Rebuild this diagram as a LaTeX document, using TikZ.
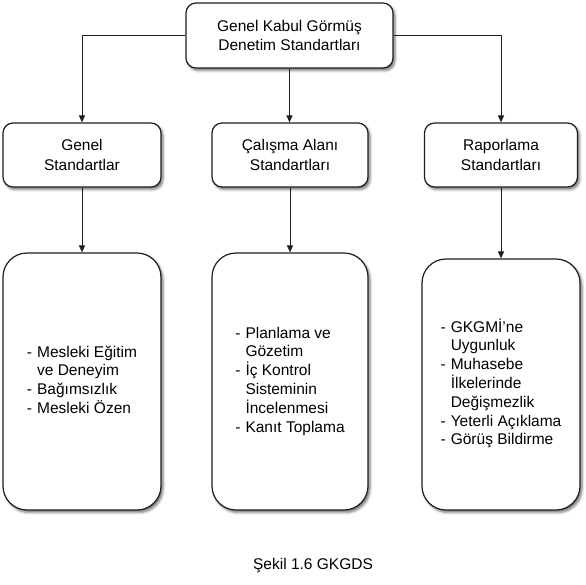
\documentclass[tikz,border=0pt]{standalone}
\usepackage{fontspec}
\setmainfont{Liberation Sans}
\usetikzlibrary{arrows.meta,shadows.blur}
\definecolor{edge}{HTML}{1E1E1E}

\begin{document}
\begin{tikzpicture}[x=1pt, y=-1pt,
    box/.style={draw=edge, line width=1.2pt, fill=white, rounded corners=10pt,
      blur shadow={shadow xshift=2pt, shadow yshift=-2.5pt, shadow blur radius=2.5pt, shadow opacity=55},
      font=\fontsize{15.5}{19.5}\selectfont, align=center, inner sep=0pt},
    listbox/.style={box, rounded corners=24pt, font=\fontsize{15.5}{18.7}\selectfont},
    link/.style={-{Triangle[length=7pt, width=6pt]}, draw=edge, line width=1pt}]
  \useasboundingbox (0,0) rectangle (586,584);
  % main box and the three groups
  \node[box, minimum width=207pt, minimum height=65pt] (gkgds) at (289.5,35.5)
        {Genel Kabul Görmüş\\Denetim Standartları};
  \node[box, minimum width=158pt, minimum height=64pt] (genel) at (82,155) {Genel\\Standartlar};
  \node[box, minimum width=156pt, minimum height=64pt] (alan) at (290,155) {Çalışma Alanı\\Standartları};
  \node[box, minimum width=153pt, minimum height=64pt] (rapor) at (501,155) {Raporlama\\Standartları};
  % lists
  \node[listbox, minimum width=158pt, minimum height=257pt] (genelliste) at (82,381.5)
        {\begin{tabular}{@{}l@{\hspace{5pt}}l@{}}
          - & Mesleki Eğitim\\ & ve Deneyim\\ - & Bağımsızlık\\ - & Mesleki Özen
         \end{tabular}};
  \node[listbox, minimum width=156pt, minimum height=257pt] (alanliste) at (290,381.5)
        {\begin{tabular}{@{}l@{\hspace{5pt}}l@{}}
          - & Planlama ve\\ & Gözetim\\ - & İç Kontrol\\ & Sisteminin\\ & İncelenmesi\\ - & Kanıt Toplama
         \end{tabular}};
  \node[listbox, minimum width=158pt, minimum height=251pt] (raporliste) at (501,384.5)
        {\begin{tabular}{@{}l@{\hspace{5pt}}l@{}}
          - & GKGMİ’ne\\ & Uygunluk\\ - & Muhasebe\\ & İlkelerinde\\ & Değişmezlik\\
          - & Yeterli Açıklama\\ - & Görüş Bildirme
         \end{tabular}};
  % connectors
  \draw[link] (gkgds.west) -| (genel.north);
  \draw[link] (gkgds.south) -- (gkgds.south |- alan.north);
  \draw[link] (gkgds.east) -| (rapor.north);
  \foreach \a/\b in {genel/genelliste, alan/alanliste, rapor/raporliste}
    \draw[link] (\a.south) -- (\a.south |- \b.north);
  % caption
  \node[font=\fontsize{15.5}{18}\selectfont] (sekil) at (313,566) {Şekil 1.6 GKGDS};
\end{tikzpicture}
\end{document}
